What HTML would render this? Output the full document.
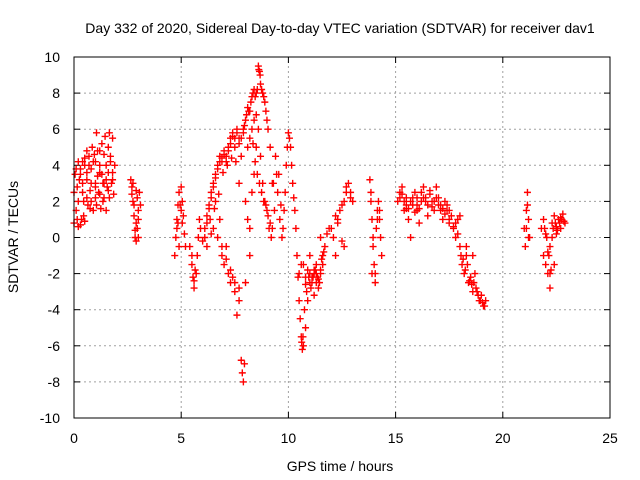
<!DOCTYPE html>
<html><head><meta charset="utf-8"><style>
html,body{margin:0;padding:0;background:#fff}
svg{display:block;font-family:"Liberation Sans",sans-serif}
</style></head><body>
<svg id="chart" width="640" height="480">
<rect width="640" height="480" fill="#fff"/>
<text x="340" y="33" font-size="14" text-anchor="middle">Day 332 of 2020, Sidereal Day-to-day VTEC variation (SDTVAR) for receiver dav1</text>
<g id="grid"></g>
<g id="ticks"></g>
<g id="marks"></g>
<rect x="74" y="57" width="536" height="361" fill="none" stroke="#000" stroke-width="1"/>
<text x="340" y="471" font-size="14" text-anchor="middle">GPS time / hours</text>
<text transform="translate(18,237) rotate(-90)" font-size="14" text-anchor="middle">SDTVAR / TECUs</text>
</svg>
<script>
const xTicks=[0,5,10,15,20,25];
const yTicks=[-10,-8,-6,-4,-2,0,2,4,6,8,10];
const times=[0.0,0.0,0.05,0.1,0.15,0.2,0.25,0.3,0.35,0.4,0.45,0.5,0.5,0.6,0.65,0.7,0.75,0.8,0.85,0.9,0.95,1.0,1.05,1.1,1.15,1.2,1.25,1.3,1.35,1.4,1.45,1.5,1.55,1.6,1.65,1.7,1.75,1.8,1.85,1.9,0.3,0.6,1.0,1.2,1.5,
2.65,2.7,2.75,2.8,2.85,2.9,2.95,3.0,3.05,3.1,2.75,2.9,3.0,
4.7,4.75,4.8,4.85,4.9,5.0,5.05,5.1,5.15,5.2,4.8,5.0,
5.4,5.5,5.55,5.6,5.7,5.75,5.8,5.85,5.9,
6.0,6.1,6.2,6.3,6.4,6.5,6.6,6.7,6.8,6.9,7.0,7.1,7.2,7.3,7.4,7.5,7.6,7.7,6.2,6.4,6.6,6.8,6.9,7.0,7.1,7.2,7.3,7.4,7.5,7.6,7.7,7.8,7.85,7.9,7.95,7.7,7.8,7.9,8.0,8.1,8.2,8.3,8.4,8.5,8.6,8.65,8.7,8.8,8.9,9.0,8.0,8.1,8.2,8.0,8.2,8.3,8.4,8.5,8.6,8.7,8.8,8.9,9.0,9.1,9.2,9.3,9.4,9.5,9.6,9.7,9.8,9.9,10.0,10.1,10.2,10.3,10.4,10.5,10.6,10.7,10.8,10.9,11.0,10.5,10.6,10.8,11.1,11.2,11.3,11.4,11.5,11.6,11.7,11.8,11.9,11.5,11.3,11.0,11.2,10.65,
12.0,12.1,12.2,12.3,12.4,12.5,12.6,12.7,12.8,12.9,13.0,12.2,
13.8,13.85,13.9,13.95,14.0,14.05,14.1,14.15,14.2,14.25,14.3,14.35,13.9,
15.1,15.2,15.3,15.4,15.5,15.6,15.7,15.8,15.9,16.0,16.1,16.2,16.3,16.4,16.5,16.6,16.7,16.8,16.9,17.0,17.1,17.2,17.3,17.4,17.5,17.6,17.7,17.8,17.9,18.0,18.1,18.2,18.3,18.4,18.5,18.6,18.7,18.8,18.9,19.0,19.1,19.2,18.0,17.5,16.0,15.5,18.3,18.6,
21.0,21.05,21.1,21.15,21.2,21.25,
21.8,21.9,22.0,22.1,22.2,22.3,22.4,22.5,22.6,22.7,22.8,22.9,21.9,22.0,22.2,22.4];
const values=[0.8,2.5,3.5,1.5,2.8,0.6,3.2,3.8,1.0,4.2,2.0,4.4,0.9,3.6,1.8,4.0,2.6,3.0,5.0,1.5,4.6,2.2,5.8,3.4,2.5,4.8,1.6,5.2,3.0,2.2,5.6,4.0,2.8,3.6,5.8,4.5,3.0,5.5,2.4,4.0,0.7,4.8,4.2,3.6,1.5,
3.2,2.8,2.0,1.2,0.4,-0.2,0.5,1.5,2.5,1.8,3.0,2.6,0.0,
-1.0,0.0,1.0,1.8,2.5,2.8,2.0,1.2,0.2,-0.5,0.5,1.5,
-0.5,-1.5,-2.2,-2.8,-2.0,-1.0,0.0,1.0,0.5,
-0.2,0.5,1.2,1.8,2.5,3.0,3.5,4.0,4.5,4.2,4.8,4.5,5.0,5.5,5.8,5.5,6.0,5.2,-0.5,0.2,2.0,1.0,-1.0,-1.5,-0.5,-2.0,-2.5,-2.2,-3.0,-4.3,-3.5,-6.8,-7.5,-8.0,-7.0,3.0,4.5,5.8,6.5,7.2,7.0,7.8,8.2,8.0,9.5,9.2,8.5,8.0,7.5,6.5,2.0,1.0,0.5,-2.5,-1.0,2.5,3.5,5.0,6.0,4.5,3.0,2.0,1.5,0.5,0.0,3.0,4.5,2.5,1.0,0.0,1.5,4.0,5.8,5.0,3.0,1.5,-1.0,-3.5,-5.5,-6.0,-5.0,-3.5,-2.5,-2.0,-1.5,-2.2,-2.5,-2.0,-1.5,-2.8,-2.0,-1.0,-0.5,0.2,0.5,0.0,-2.5,-1.0,-3.2,-6.2,
0.5,0.0,-1.0,0.8,1.5,-0.2,2.0,2.5,3.0,2.5,2.0,1.2,
3.2,2.0,1.0,-0.5,-1.5,-2.5,0.5,1.5,2.0,1.0,0.0,-1.0,-2.0,
2.0,2.5,2.8,1.5,1.8,1.0,0.0,2.2,2.5,1.8,0.8,2.5,2.8,2.0,1.2,2.6,2.0,1.5,2.8,2.2,1.8,1.0,2.0,1.8,1.5,1.2,0.5,0.0,1.0,-0.5,-1.5,-2.0,-1.0,-2.5,-2.2,-3.0,-2.0,-3.0,-3.5,-3.2,-3.8,-3.5,1.2,0.8,1.5,2.2,-0.5,-1.0,
0.5,-0.5,1.5,2.5,1.0,0.0,
0.5,-1.0,-1.5,-2.0,-2.8,0.8,1.2,0.2,1.0,0.5,1.3,0.8,1.0,0.2,-0.5,-1.5];
const extraTimes=[0.1,0.2,0.3,0.4,0.5,0.6,0.7,0.8,0.9,1.0,1.1,1.2,1.3,1.4,1.5,1.6,1.7,1.8,0.2,0.4,0.6,0.8,1.0,1.2,1.4,1.6,1.8,0.15,0.45,0.75,1.05,1.35,1.65,
2.7,2.8,2.9,3.0,2.85,2.95,
4.85,4.95,5.05,4.9,5.6,5.65,5.5,
6.1,6.2,6.3,6.4,6.5,6.6,6.7,6.8,6.9,7.0,7.1,7.2,7.3,7.4,7.5,7.6,7.7,7.8,7.9,6.5,6.7,6.9,7.1,7.3,7.5,7.7,6.35,6.55,6.75,6.95,7.15,7.35,7.55,
7.95,8.05,8.15,8.25,8.35,8.45,8.55,8.62,8.68,8.75,8.85,8.95,9.05,9.15,9.25,8.1,8.2,8.3,8.4,8.5,
8.35,8.45,8.55,8.65,8.75,8.85,8.95,9.05,9.15,9.25,9.35,9.45,9.55,9.65,9.75,
9.85,9.95,10.05,10.15,10.25,10.35,10.45,10.55,10.62,10.68,10.75,10.85,10.95,
10.9,11.0,11.1,11.2,11.3,11.4,11.5,11.6,10.7,10.8,11.05,11.15,11.25,11.35,11.45,11.55,11.65,
12.3,12.5,12.7,12.9,12.6,13.85,13.95,14.05,14.15,14.25,
15.2,15.4,15.6,15.8,16.0,16.2,16.4,16.6,16.8,17.0,17.2,17.4,17.6,17.8,15.3,15.5,15.7,15.9,16.1,16.3,16.5,16.7,16.9,17.1,17.3,17.5,17.7,17.9,
18.05,18.15,18.25,18.35,18.45,18.55,18.65,18.75,18.85,18.95,19.05,19.15,
21.1,21.15,21.2,21.95,22.05,22.15,22.25,22.35,22.45,22.55,22.65,22.75,22.85,22.3,22.5,22.7,22.1,22.2];
const extraValues=[3.8,4.2,3.5,3.0,4.0,3.2,4.5,3.8,4.2,3.0,4.8,4.0,3.5,4.6,3.2,5.0,4.2,3.6,2.0,2.5,2.2,2.0,2.8,2.4,3.0,2.6,3.2,1.0,1.2,1.6,1.8,2.0,2.2,
2.4,1.8,0.8,1.0,0.0,2.2,
0.8,1.8,0.8,-0.5,-2.4,-1.8,-1.0,
0.0,0.8,1.6,2.2,2.8,3.3,3.8,4.2,4.4,4.6,4.2,4.8,5.2,5.6,5.0,5.8,5.5,5.5,6.0,0.5,0.0,-0.5,-1.2,-1.8,-2.5,-2.8,1.0,1.6,2.4,3.6,4.0,4.4,4.2,
6.2,6.8,7.0,7.5,8.0,7.8,8.2,9.3,9.0,8.2,7.8,7.0,6.0,5.0,3.0,5.0,5.5,6.0,6.5,6.8,
5.2,4.2,3.5,3.0,2.5,2.0,1.8,1.2,0.8,0.5,1.5,3.5,3.5,1.8,0.5,
2.5,5.0,5.5,4.0,2.2,0.5,-2.2,-4.5,-5.8,-5.5,-4.0,-3.0,-2.2,
-1.8,-2.0,-2.2,-1.8,-2.0,-2.3,-1.8,-1.5,-1.5,-2.6,-2.8,-2.2,-1.8,-2.2,-2.5,-1.2,-0.8,
1.0,1.8,2.8,2.2,-0.5,2.5,0.0,-2.0,1.0,1.5,
2.2,2.0,1.6,1.8,2.2,2.0,2.2,2.4,2.0,1.8,1.6,1.5,1.2,0.8,2.4,1.6,2.0,1.4,1.6,2.2,1.8,1.7,2.2,1.5,1.3,1.0,0.6,0.2,
-1.0,-1.2,-1.8,-1.5,-2.4,-2.6,-2.5,-2.8,-3.2,-3.5,-3.6,-3.8,
0.5,1.8,0.0,0.5,0.0,-1.0,-1.8,0.5,0.8,0.4,0.8,1.0,0.9,0.0,0.6,1.1,-0.8,-2.0];
const NS='http://www.w3.org/2000/svg';
const X0=74,X1=610,Y0=418,Y1=57;
function xs(v){return X0+(v-0)/(25-0)*(X1-X0);}
function ys(v){return Y0-(v+10)/20*(Y0-Y1);}
const grid=document.getElementById('grid'),ticks=document.getElementById('ticks'),marks=document.getElementById('marks');
function mk(tag,attrs,parent){const e=document.createElementNS(NS,tag);for(const k in attrs)e.setAttribute(k,attrs[k]);parent.appendChild(e);return e;}
xTicks.forEach(t=>{
  const x=xs(t);
  if(t>0&&t<25){const g=mk('line',{x1:x,x2:x,y1:Y0,y2:Y1,stroke:'#a0a0a0','stroke-dasharray':'2,3'},grid);
  
  }
  const a=mk('line',{x1:x,x2:x,y1:Y0,y2:Y0-6,stroke:'#000'},ticks);
  
  
  const b=mk('line',{x1:x,x2:x,y1:Y1,y2:Y1+6,stroke:'#000'},ticks);
  
  
  const l=mk('text',{x:x,y:Y0+25,'font-size':14,'text-anchor':'middle'},ticks);l.textContent=t;
  
  
});
yTicks.forEach(t=>{
  const y=ys(t);
  if(t>-10&&t<10){const g=mk('line',{x1:X0,x2:X1,y1:y,y2:y,stroke:'#a0a0a0','stroke-dasharray':'2,3'},grid);
  
  }
  const a=mk('line',{x1:X0,x2:X0+6,y1:y,y2:y,stroke:'#000'},ticks);
  
  
  const b=mk('line',{x1:X1,x2:X1-6,y1:y,y2:y,stroke:'#000'},ticks);
  
  
  const l=mk('text',{x:X0-14,y:y+5,'font-size':14,'text-anchor':'end'},ticks);l.textContent=t;
  
  
});
let d='';
times.forEach((t,i)=>{const x=xs(t),y=ys(values[i]);d+=`M${x-3.5},${y}h7M${x},${y-3.5}v7`;});
extraTimes.forEach((t,i)=>{const x=xs(t),y=ys(extraValues[i]);d+=`M${x-3.5},${y}h7M${x},${y-3.5}v7`;});
const p=mk('path',{d:d,stroke:'#ff0000','stroke-width':1.4,fill:'none'},marks);


</script>
</body></html>
